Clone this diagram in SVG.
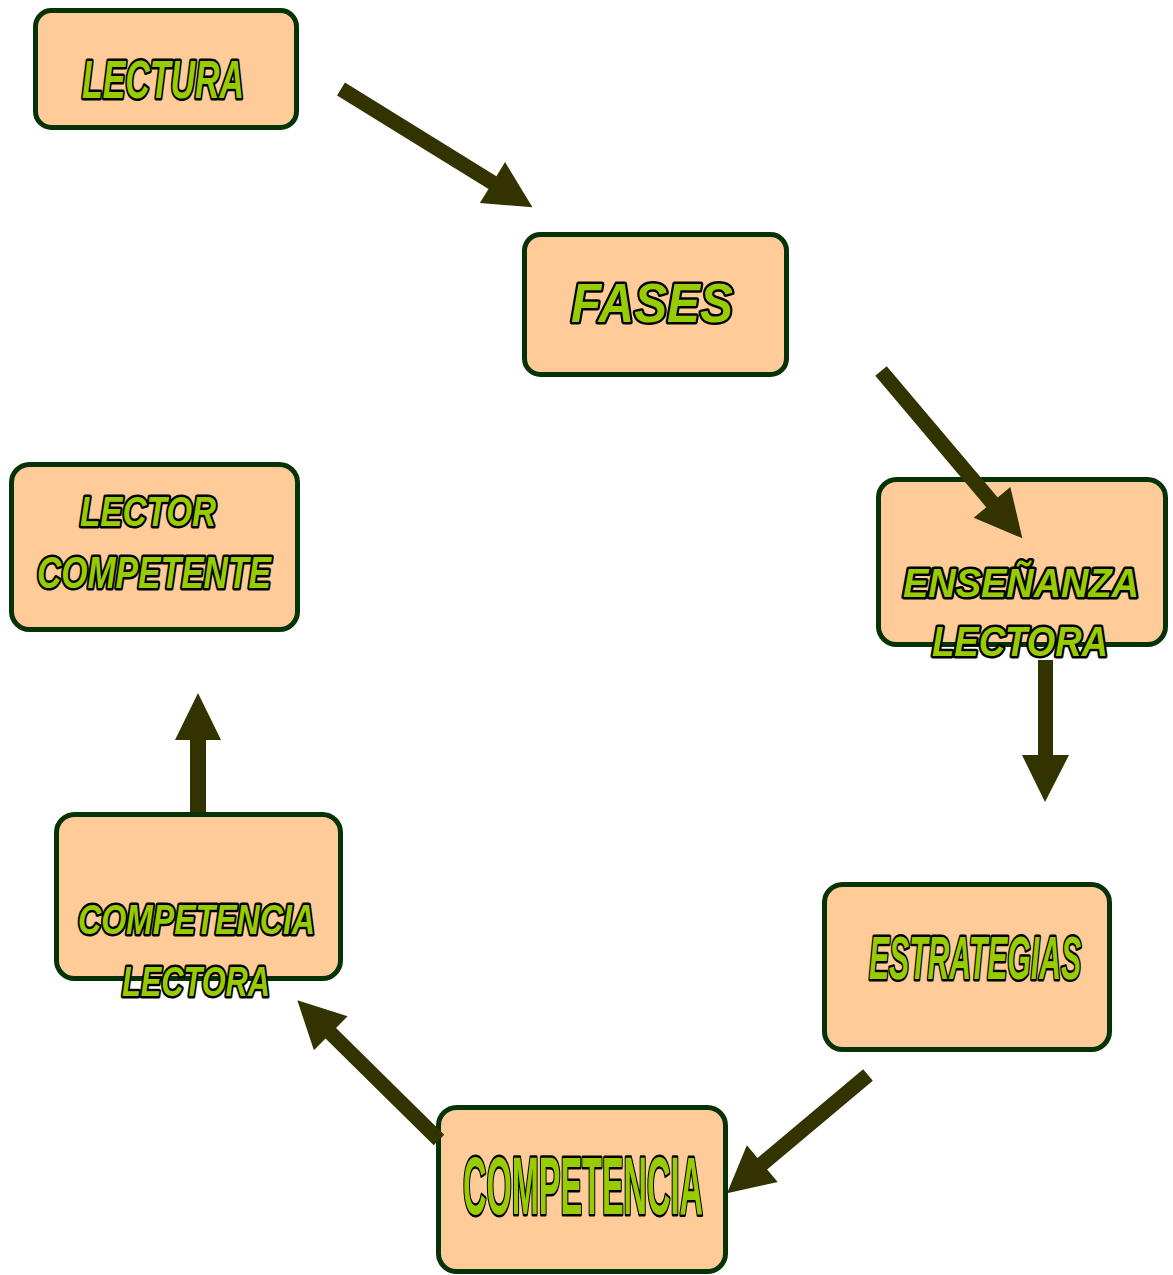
<svg xmlns="http://www.w3.org/2000/svg" width="1173" height="1275" viewBox="0 0 1173 1275">
<style>
.box{fill:#ffcc99;stroke:#063306;stroke-width:5}
.t{font-family:"Liberation Sans",Arial,sans-serif;font-weight:bold;font-style:italic;fill:#99cc00;stroke:#000;stroke-width:5;paint-order:stroke;stroke-linejoin:round}
.u{font-style:normal}
.arr{fill:#333300}
</style>
<rect width="1173" height="1275" fill="#fff"/>
<g id="lectura">
<rect class="box" x="35.5" y="10.5" width="261" height="117" rx="16"/>
<text class="t" x="82" y="98" font-size="53" textLength="162" lengthAdjust="spacingAndGlyphs">LECTURA</text>
</g>
<g id="fases">
<rect class="box" x="524.5" y="234.5" width="262" height="140" rx="16"/>
<text class="t" x="571" y="322" font-size="56" textLength="162" lengthAdjust="spacingAndGlyphs">FASES</text>
</g>
<g id="ensenanza">
<rect class="box" x="878.5" y="479.5" width="287" height="165" rx="18"/>
<text class="t" x="903" y="597" font-size="40" textLength="236" lengthAdjust="spacingAndGlyphs">ENSEÑANZA</text>
<text class="t" x="932" y="656" font-size="42" textLength="176" lengthAdjust="spacingAndGlyphs">LECTORA</text>
</g>
<g id="estrategias">
<rect class="box" x="824.5" y="884.5" width="285" height="165" rx="18"/>
<text class="t" x="869" y="979" font-size="62" textLength="212" lengthAdjust="spacingAndGlyphs">ESTRATEGIAS</text>
</g>
<g id="competencia">
<rect class="box" x="438.5" y="1107.5" width="287" height="164" rx="18"/>
<text class="t u" x="463" y="1214" font-size="82" textLength="240" lengthAdjust="spacingAndGlyphs">COMPETENCIA</text>
</g>
<g id="competencia-lectora">
<rect class="box" x="56.5" y="814.5" width="284" height="164" rx="18"/>
<text class="t" x="78" y="934" font-size="43" textLength="237" lengthAdjust="spacingAndGlyphs">COMPETENCIA</text>
<text class="t" x="122" y="996" font-size="43" textLength="148" lengthAdjust="spacingAndGlyphs">LECTORA</text>
</g>
<g id="lector-competente">
<rect class="box" x="11.5" y="464.5" width="286" height="165" rx="18"/>
<text class="t" x="80" y="526" font-size="43" textLength="136" lengthAdjust="spacingAndGlyphs">LECTOR</text>
<text class="t" x="37" y="588" font-size="44" textLength="234" lengthAdjust="spacingAndGlyphs">COMPETENTE</text>
</g>
<g id="connectors">
<path class="arr" d="M0,-7.5 L178,-7.5 L178,-24 L225,0 L178,24 L178,7.5 L0,7.5 Z" transform="translate(341,89) rotate(31.7)"/>
<path class="arr" d="M0,-7.5 L172,-7.5 L172,-24 L219,0 L172,24 L172,7.5 L0,7.5 Z" transform="translate(881,371) rotate(49.8)"/>
<path class="arr" d="M1038,660 L1053,660 L1053,755 L1069,755 L1045,802 L1022,755 L1038,755 Z"/>
<path class="arr" d="M0,-7.5 L138,-7.5 L138,-24 L184,0 L138,24 L138,7.5 L0,7.5 Z" transform="translate(868,1075) rotate(140)"/>
<path class="arr" d="M0,-7.5 L152,-7.5 L152,-24 L199,0 L152,24 L152,7.5 L0,7.5 Z" transform="translate(439,1140) rotate(224.6)"/>
<path class="arr" d="M190,812 L206,812 L206,740 L221,740 L198,693 L175,740 L190,740 Z"/>
</g>
</svg>
